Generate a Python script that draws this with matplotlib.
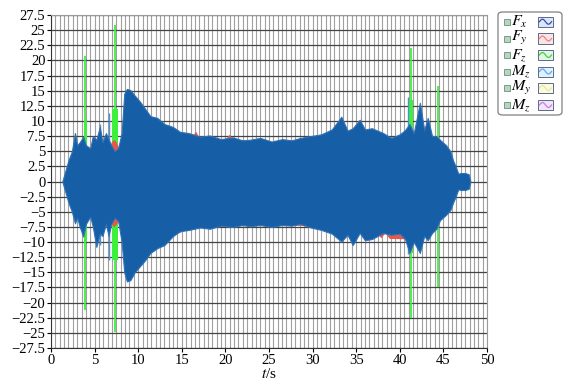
import numpy as np
import matplotlib
matplotlib.use("Agg")
import matplotlib.pyplot as plt
from matplotlib.patches import Rectangle, FancyBboxPatch
from matplotlib.ticker import MultipleLocator, FuncFormatter

plt.rcParams['font.family'] = ['Liberation Serif', 'DejaVu Serif']
plt.rcParams['mathtext.fontset'] = 'stix'

# envelope of the blue trace (F_x)
t_blue = [1.3, 1.6, 2.0, 2.4, 2.75, 3.0, 3.3, 3.7, 4.0, 4.5, 4.8, 5.2, 5.6, 5.9, 6.3, 6.6, 6.9, 7.3, 7.7,
          8.1, 8.4, 8.7, 9.1, 9.6, 10.2, 10.8, 11.4, 12.2, 13.0, 14.0, 14.8, 15.8, 17.1, 18.2, 19.5, 20.8,
          22.0, 22.8, 24.0, 25.3, 26.5, 27.6, 28.6, 29.8, 31.0, 32.2, 33.3, 34.0, 34.6, 35.4, 36.0, 36.8,
          38.1, 39.0, 40.0, 40.6, 41.1, 41.6, 42.3, 42.8, 43.2, 43.7, 44.2, 44.6, 45.3, 45.8, 46.1, 46.4,
          46.7, 47.0, 47.5, 47.9, 48.1]
blue_hi = [0, 1.5, 3.5, 5, 8, 6, 6.5, 7.4, 6, 5.5, 7.5, 6.9, 9, 6.5, 8, 7, 6, 5, 5.5,
           8, 14.5, 15.3, 15.1, 14.2, 13.2, 12, 10.8, 10.5, 9.5, 9, 8.2, 8, 7.4, 7.6, 7, 7.3,
           6.8, 6.9, 7.2, 6.6, 7, 6.8, 7.2, 7.5, 7.8, 8.6, 10.7, 8.4, 8.8, 10.2, 8.6, 8.8,
           8, 7.2, 7.8, 8.5, 9.5, 8, 13, 8.5, 10.5, 7.5, 7.5, 6.9, 6, 5, 3.5, 2.5,
           1.3, 1.4, 1.4, 1.2, 0]
blue_lo = [0, -1.5, -3.5, -5, -6.9, -6, -7.5, -9.1, -7, -5.8, -7.5, -10.8, -8.6, -9, -7, -9, -7, -6, -6.5,
           -10, -15, -16.5, -16.3, -15, -14, -13, -11.8, -11, -10.5, -9, -8.2, -8, -7.6, -7.8, -7.3, -7.5,
           -7.2, -7.4, -7.2, -7.5, -7.2, -7.3, -7, -7.6, -8, -8.6, -9.9, -8.8, -10.5, -8.5, -9.7, -9.5,
           -8.5, -8.8, -8.6, -9.5, -11.8, -10, -11.8, -9, -9.7, -8.5, -7.8, -6.4, -5.5, -4.7, -3.5, -2.5,
           -1.3, -1.4, -1.4, -1.2, 0]

# red trace (F_y) envelope, mostly hidden behind the blue one
t_red = [2.0, 6.6, 6.9, 7.2, 7.5, 7.8, 8.2, 14, 16.2, 16.6, 17.0, 20.0, 20.4, 20.8, 26, 30, 37.4, 37.8, 38.3,
         38.8, 42, 44, 46]
red_hi = [3, 5, 6.5, 7, 6.5, 5.5, 7, 8.5, 7.6, 8.3, 7.2, 7.0, 7.8, 7.0, 6.5, 7.0, 8.0, 7.8, 7.5,
          7.0, 8, 7, 3]
red_lo = [-3, -6, -7, -7.5, -7, -6.5, -9, -8.8, -7.6, -7.6, -7.4, -7.2, -7.4, -7.2, -7.0, -7.4, -8.4, -9.3,
          -8.5, -9.4, -9.5, -7.5, -3]

# green trace (F_z) spikes: time, top, bottom
green_t = [3.95, 7.3, 41.25, 44.4]
green_hi = [20.8, 25.8, 22.0, 15.7]
green_lo = [-21.3, -24.8, -22.6, -17.4]
# thicker green bursts: start, end, top, bottom
gband_t0 = [3.75, 7.0, 41.0]
gband_t1 = [4.15, 7.7, 41.5]
gband_hi = [10, 12, 13.5]
gband_lo = [-10, -13, -11.8]

# light blue trace (M_z) spikes
lb_t = [6.6, 5.6, 40.9]
lb_hi = [11.3, 9.5, 14]
lb_lo = [-13, -10.5, -12]

legend_labels = [r'$F_x$', r'$F_y$', r'$F_z$', r'$M_z$', r'$M_y$', r'$M_z$']
legend_colors = ['#3050b0', '#f08080', '#40d040', '#60a8f0', '#e8e890', '#c080e0']
legend_fill = ['#dde6f8', '#fbe4e4', '#e2f7e2', '#e0f0fc', '#fbfbe4', '#f4e4f8']

fig = plt.figure(figsize=(5.64, 3.83), dpi=100)
ax = fig.add_axes([0.0904, 0.0914, 0.7731, 0.8694])

blue = '#165ea6'
ax.vlines(green_t, green_lo, green_hi, color='#3ef03e', lw=1.3, zorder=2)
for a, b, h, l in zip(gband_t0, gband_t1, gband_hi, gband_lo):
    ax.fill_between([a, b], [l, l], [h, h], color='#3ef03e', lw=0, zorder=2)
ax.fill_between(t_red, red_lo, red_hi, color='#e8584a', lw=0, zorder=3)
ax.vlines(lb_t, lb_lo, lb_hi, color='#4d8fd0', lw=1.0, zorder=3)
ax.fill_between(t_blue, blue_lo, blue_hi, color=blue, lw=0.8, edgecolor='#2f72b8', zorder=4)

ax.set_xlim(0, 50)
ax.set_ylim(-27.5, 27.5)
ax.xaxis.set_major_locator(MultipleLocator(5))
ax.xaxis.set_minor_locator(MultipleLocator(0.5))
ax.yaxis.set_major_locator(MultipleLocator(2.5))
fmt = FuncFormatter(lambda v, p: ('%g' % v).replace('-', '\u2212'))
ax.xaxis.set_major_formatter(fmt)
ax.yaxis.set_major_formatter(fmt)
ax.grid(True, which='minor', axis='x', color='#a0a0a0', lw=0.8, zorder=0)
ax.grid(True, which='major', axis='x', color='#a0a0a0', lw=0.8, zorder=0)
ax.grid(True, which='major', axis='y', color='#444444', lw=0.9, zorder=1)
ax.set_axisbelow(True)
ax.tick_params(axis='both', which='major', labelsize=10.5, length=3, width=0.8, direction='out', pad=1)
ax.tick_params(axis='both', which='minor', length=0)
for s in ['top', 'right']:
    ax.spines[s].set_color('#9a9a9a')
for s in ['left', 'bottom']:
    ax.spines[s].set_color('#333333')
ax.set_xlabel(r'$t$/s', fontsize=11, labelpad=0)

# legend box drawn by hand
lx0, ly0, lw_, lh = 498 / 564, 1 - 115 / 383, 64 / 564, 103 / 383
fig.patches.append(FancyBboxPatch((lx0, ly0), lw_, lh, boxstyle='round,pad=0,rounding_size=0.008',
                                  transform=fig.transFigure, fc='white', ec='#808080', lw=0.9))
rows = [21.7, 38.5, 55, 71.5, 88, 105]
for yy, lab, c, f in zip(rows, legend_labels, legend_colors, legend_fill):
    yf = 1 - yy / 383
    fig.patches.append(Rectangle((504 / 564, yf - 3 / 383), 6 / 564, 6 / 383, transform=fig.transFigure,
                                 fc='#b8d8b0', ec='#6a8a9a', lw=0.6))
    fig.text(511 / 564, yf, lab, fontsize=11.5, va='center', ha='left')
    fig.patches.append(Rectangle((538 / 564, yf - 5 / 383), 15 / 564, 10 / 383, transform=fig.transFigure,
                                 fc=f, ec='#5a6a8a', lw=0.7))
    xs = np.linspace(539.5, 551.5, 20) / 564
    ys = yf + (2.5 * np.sin(np.linspace(0, 2 * np.pi, 20))) / 383
    fig.lines.append(plt.Line2D(xs, ys, transform=fig.transFigure, color=c, lw=0.9))

fig.savefig('out.png', dpi=100)
